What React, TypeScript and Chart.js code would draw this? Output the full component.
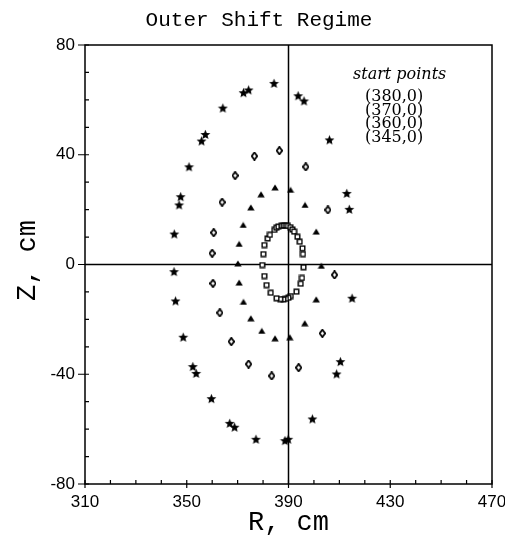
import { useEffect, useRef } from "react";
import { Chart, registerables } from "chart.js";

Chart.register(...registerables);

// Poincaré puncture points (R, Z) in cm for each starting point.
const squarePoints: [number, number][] = [
  [379.7, -0.2], [380.1, 3.8], [380.5, 7.1], [381.8, 9.5], [382.7, 10.8], [384.4, 12.6],
  [385.2, 13.4], [386.0, 13.8], [387.2, 14.1], [388.1, 14.2], [389.0, 14.2], [389.8, 14.1],
  [390.7, 13.6], [391.5, 12.8], [392.2, 12.0], [393.5, 10.1], [394.4, 8.3], [395.5, 5.9],
  [395.7, 3.8], [395.9, -1.0], [395.3, -4.9], [394.8, -7.0], [393.1, -9.9], [390.9, -11.5],
  [390.0, -12.1], [389.0, -12.5], [388.0, -12.7], [386.8, -12.6], [385.3, -12.3], [383.0, -10.3],
  [381.4, -7.5], [380.5, -4.2],
];

const trianglePoints: [number, number][] = [
  [370.1, 0.4], [370.6, 7.5], [372.2, 14.4], [375.2, 20.8], [379.2, 25.6], [384.7, 28.1],
  [390.8, 27.2], [396.5, 21.7], [400.9, 12.0], [402.9, -0.5], [400.9, -12.7], [396.4, -21.4],
  [390.5, -26.5], [384.7, -26.9], [379.5, -24.2], [375.2, -19.6], [372.3, -13.6], [370.6, -6.6],
];

const diamondPoints: [number, number][] = [
  [360.0, 4.1], [360.6, 11.6], [363.9, 22.7], [369.0, 32.4], [376.6, 39.5], [386.4, 41.5],
  [396.8, 35.6], [405.5, 19.9], [408.1, -3.8], [403.3, -25.1], [394.0, -37.6], [383.4, -40.6],
  [374.3, -36.3], [367.5, -28.1], [363.0, -17.6], [360.3, -6.9],
];

const starPoints: [number, number][] = [
  [345.0, -2.6], [345.1, 11.1], [347.0, 21.7], [347.6, 24.7], [350.9, 35.6], [355.8, 45.0],
  [357.3, 47.4], [364.2, 57.0], [372.3, 62.6], [374.3, 63.6], [384.3, 66.0], [393.8, 61.5],
  [396.1, 59.6], [406.1, 45.4], [412.9, 25.9], [413.9, 20.1], [415.0, -12.3], [410.4, -35.4],
  [408.9, -39.9], [399.4, -56.3], [389.9, -63.7], [388.6, -64.2], [377.2, -63.7], [368.8, -59.3],
  [366.9, -57.9], [359.7, -48.9], [353.7, -39.7], [352.4, -37.2], [348.6, -26.5], [345.6, -13.3],
];

const startPointLabels = ["(380,0)", "(370,0)", "(360,0)", "(345,0)"];
const rTicks = [310, 350, 390, 430, 470];
const zTicks = [-80, -40, 0, 40, 80];
const rRange = [310, 470];
const zRange = [-80, 80];
const minorStep = 10;
const crossR = 390;
const crossZ = 0;

function markerCanvas(w: number, h: number, draw: (ctx: CanvasRenderingContext2D) => void) {
  const c = document.createElement("canvas");
  c.width = w;
  c.height = h;
  const ctx = c.getContext("2d")!;
  ctx.fillStyle = "#000";
  ctx.strokeStyle = "#000";
  draw(ctx);
  return c;
}

function makeStar() {
  return markerCanvas(11, 11, (ctx) => {
    ctx.beginPath();
    for (let i = 0; i < 10; i++) {
      const r = i % 2 === 0 ? 5.2 : 2.3;
      const a = -Math.PI / 2 + (i * Math.PI) / 5;
      const x = 5.5 + r * Math.cos(a);
      const y = 5.9 + r * Math.sin(a);
      if (i === 0) ctx.moveTo(x, y);
      else ctx.lineTo(x, y);
    }
    ctx.closePath();
    ctx.fill();
  });
}

function makeDiamond() {
  return markerCanvas(7, 9, (ctx) => {
    ctx.beginPath();
    ctx.moveTo(3.5, 0.8);
    ctx.lineTo(6.2, 4.5);
    ctx.lineTo(3.5, 8.2);
    ctx.lineTo(0.8, 4.5);
    ctx.closePath();
    ctx.fillStyle = "#fff";
    ctx.fill();
    ctx.lineWidth = 1.8;
    ctx.stroke();
  });
}

function makeTriangle() {
  return markerCanvas(8, 7, (ctx) => {
    ctx.beginPath();
    ctx.moveTo(4, 0.4);
    ctx.lineTo(7.7, 6.6);
    ctx.lineTo(0.3, 6.6);
    ctx.closePath();
    ctx.fill();
  });
}

function makeSquare() {
  return markerCanvas(7, 7, (ctx) => {
    ctx.fillStyle = "#fff";
    ctx.fillRect(1, 1, 5, 5);
    ctx.lineWidth = 1.4;
    ctx.strokeRect(1.2, 1.2, 4.6, 4.6);
  });
}

const frameAndText = {
  id: "frameAndText",
  beforeDatasetsDraw(chart: any) {
    const { ctx, chartArea } = chart;
    const xs = chart.scales.x;
    const ys = chart.scales.y;
    const { left, right, top, bottom } = chartArea;
    ctx.save();
    ctx.strokeStyle = "#000";
    ctx.lineWidth = 1.5;
    ctx.strokeRect(left, top, right - left, bottom - top);

    // cross lines through the magnetic axis
    const cx = xs.getPixelForValue(crossR);
    const cy = ys.getPixelForValue(crossZ);
    ctx.beginPath();
    ctx.moveTo(cx, top);
    ctx.lineTo(cx, bottom);
    ctx.moveTo(left, cy);
    ctx.lineTo(right, cy);
    ctx.stroke();

    // tick marks
    ctx.lineWidth = 1.2;
    ctx.beginPath();
    for (let v = rRange[0]; v <= rRange[1]; v += minorStep) {
      const px = xs.getPixelForValue(v);
      const major = rTicks.includes(v);
      ctx.moveTo(px, bottom + (major ? 4 : 0));
      ctx.lineTo(px, bottom - 4);
    }
    for (let v = zRange[0]; v <= zRange[1]; v += minorStep) {
      const py = ys.getPixelForValue(v);
      const major = zTicks.includes(v);
      ctx.moveTo(left - (major ? 7 : 0), py);
      ctx.lineTo(left + 4, py);
    }
    ctx.stroke();
    ctx.restore();
  },
  afterDraw(chart: any) {
    const { ctx, chartArea } = chart;
    ctx.save();
    ctx.fillStyle = "#000";

    ctx.font = '21px "Liberation Mono", monospace';
    ctx.textAlign = "center";
    ctx.textBaseline = "middle";
    ctx.fillText("Outer Shift Regime", 259, 20);

    ctx.font = '27px "Liberation Mono", monospace';
    ctx.textBaseline = "alphabetic";
    ctx.fillText("R, cm", (chartArea.left + chartArea.right) / 2, 530);

    ctx.save();
    ctx.translate(35, (chartArea.top + chartArea.bottom) / 2 - 4);
    ctx.rotate(-Math.PI / 2);
    ctx.fillText("Z, cm", 0, 0);
    ctx.restore();

    ctx.textAlign = "left";
    ctx.textBaseline = "middle";
    ctx.font = 'italic 16px "DejaVu Serif", serif';
    ctx.fillText("start points", 353, 75);
    ctx.font = '16px "DejaVu Serif", serif';
    startPointLabels.forEach((t, i) => {
      ctx.fillText(t, 365, 97 + i * 13.5);
    });
    ctx.restore();
  },
};

export default function App() {
  const ref = useRef<HTMLCanvasElement | null>(null);

  useEffect(() => {
    if (!ref.current) return;
    const toXY = (pts: [number, number][]) => pts.map(([r, z]) => ({ x: r, y: z }));
    const tickFont = { family: '"Liberation Sans", sans-serif', size: 17 };
    const chart = new Chart(ref.current, {
      type: "scatter",
      data: {
        datasets: [
          { label: "(380,0)", data: toXY(squarePoints), pointStyle: makeSquare() },
          { label: "(370,0)", data: toXY(trianglePoints), pointStyle: makeTriangle() },
          { label: "(360,0)", data: toXY(diamondPoints), pointStyle: makeDiamond() },
          { label: "(345,0)", data: toXY(starPoints), pointStyle: makeStar() },
        ] as any,
      },
      plugins: [frameAndText],
      options: {
        animation: false,
        responsive: false,
        devicePixelRatio: 1,
        layout: { padding: { left: 0, top: 45, right: 38, bottom: 0 } },
        plugins: { legend: { display: false }, tooltip: { enabled: false }, title: { display: false } },
        scales: {
          x: {
            type: "linear",
            min: rRange[0],
            max: rRange[1],
            grid: { display: false, drawTicks: true, tickLength: 8 },
            border: { display: false },
            ticks: { color: "#000", font: tickFont, padding: 0, maxRotation: 0 },
            afterBuildTicks: (scale: any) => {
              scale.ticks = rTicks.map((v) => ({ value: v }));
            },
            afterFit: (scale: any) => {
              scale.height = 55;
            },
          },
          y: {
            type: "linear",
            min: zRange[0],
            max: zRange[1],
            grid: { display: false, drawTicks: true, tickLength: 8 },
            border: { display: false },
            ticks: { color: "#000", font: tickFont, padding: 2 },
            afterBuildTicks: (scale: any) => {
              scale.ticks = zTicks.map((v) => ({ value: v }));
            },
            afterFit: (scale: any) => {
              scale.width = 85;
            },
          },
        },
      } as any,
    });
    return () => chart.destroy();
  }, []);

  return (
    <div
      style={{
        position: "fixed",
        left: 0,
        top: 0,
        width: 505,
        height: 539,
        overflow: "hidden",
        background: "#fff",
      }}
    >
      <canvas ref={ref} width={530} height={539} style={{ display: "block", width: 530, height: 539 }} />
    </div>
  );
}
